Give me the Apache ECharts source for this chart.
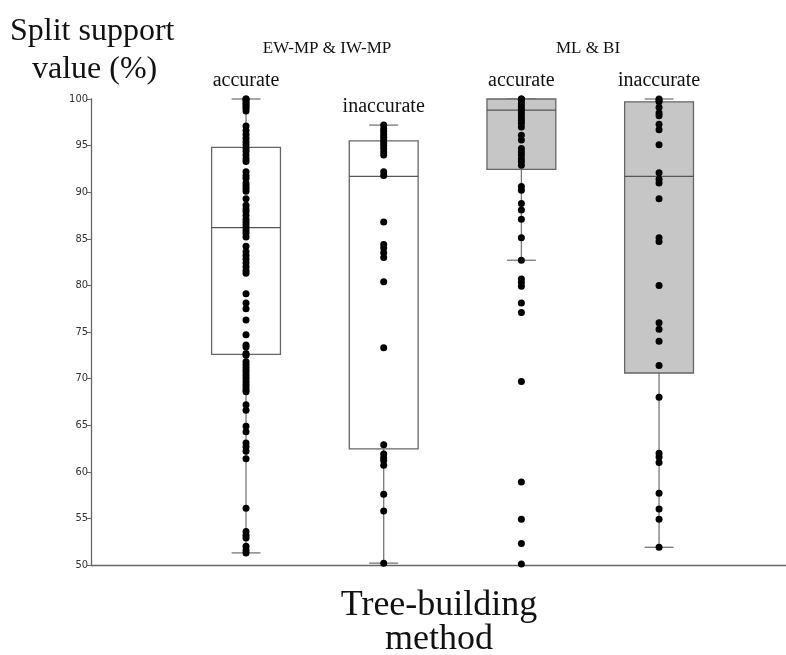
<!DOCTYPE html>
<html>
<head>
<meta charset="utf-8">
<script src="https://cdn.jsdelivr.net/npm/echarts@6/dist/echarts.min.js"></script>
<style>html,body{margin:0;padding:0;background:#fff}#c{width:786px;height:655px}</style>
</head>
<body>
<div id="c"></div>
<script>
// ---- data ----
const groupLabels = ['EW-MP & IW-MP', 'ML & BI'];
const boxLabels = ['accurate', 'inaccurate', 'accurate', 'inaccurate'];
const yTicks = [50, 55, 60, 65, 70, 75, 80, 85, 90, 95, 100];
// [min whisker, Q1, median, Q3, max whisker]
const boxEwAcc = [51.3, 72.6, 86.2, 94.8, 100];
const boxEwInacc = [50.2, 62.45, 91.7, 95.5, 97.2];
const boxMlAcc = [82.7, 92.45, 98.8, 100, 100];
const boxMlInacc = [51.9, 70.6, 91.7, 99.7, 100];
const ptsEwAcc = [100, 100, 99.8, 99.6, 99.4, 99.2, 99.0, 98.7, 97.1, 96.6, 96.2, 95.8, 95.4, 95.1, 94.7, 94.4, 94.0, 93.6, 93.3, 92.2, 91.8, 91.5, 91.0, 90.7, 90.4, 90.1, 89.3, 88.6, 88.2, 87.9, 87.5, 87.1, 86.8, 86.5, 86.2, 85.9, 85.6, 85.2, 84.2, 83.6, 83.2, 82.8, 82.4, 82.0, 81.6, 81.3, 79.1, 78.1, 77.5, 76.3, 74.7, 73.6, 73.4, 72.7, 72.5, 71.8, 71.5, 71.2, 70.9, 70.6, 70.3, 70.0, 69.7, 69.4, 69.1, 68.8, 68.6, 67.2, 66.6, 64.9, 64.3, 63.1, 62.7, 62.2, 61.4, 56.1, 53.6, 53.2, 52.9, 52.0, 51.6, 51.3];
const ptsEwInacc = [97.2, 96.8, 96.5, 96.2, 95.9, 95.6, 95.3, 95.0, 94.7, 94.3, 94.0, 92.2, 91.8, 86.8, 84.4, 84.0, 83.5, 83.0, 80.4, 73.3, 62.9, 61.9, 61.5, 61.2, 60.7, 57.6, 55.8, 50.2];
const ptsMlAcc = [100, 100, 99.8, 99.5, 99.2, 98.9, 98.6, 98.3, 98.0, 97.7, 97.4, 97.0, 96.1, 95.6, 94.7, 94.3, 94.0, 93.6, 93.3, 92.9, 90.6, 90.2, 88.8, 88.1, 87.1, 85.1, 82.7, 80.7, 80.3, 79.9, 78.1, 77.1, 69.7, 58.9, 54.9, 52.3, 50.1];
const ptsMlInacc = [100, 99.9, 99.7, 99.1, 98.5, 98.2, 97.3, 96.7, 95.1, 92.1, 91.4, 91.0, 89.3, 85.1, 84.7, 80.0, 76.0, 75.3, 74.0, 71.4, 68.0, 62.0, 61.6, 61.0, 57.7, 56.0, 54.9, 51.9];

const boxes = [boxEwAcc, boxEwInacc, boxMlAcc, boxMlInacc];
const points = [ptsEwAcc, ptsEwInacc, ptsMlAcc, ptsMlInacc];
const boxData = boxes.map((b, i) => [i + 1].concat(b));
const pointData = [];
points.forEach((arr, i) => arr.forEach(v => pointData.push([i + 1, v])));

const chart = echarts.init(document.getElementById('c'));

function renderBox(params, api) {
  const x = api.value(0);
  const lo = api.coord([x, api.value(1)]);
  const q1 = api.coord([x, api.value(2)]);
  const med = api.coord([x, api.value(3)]);
  const q3 = api.coord([x, api.value(4)]);
  const hi = api.coord([x, api.value(5)]);
  const band = api.size([1, 0])[0];
  const half = band * 0.25;
  const cap = band * 0.105;
  const fill = params.dataIndex >= 2 ? '#c6c6c6' : '#ffffff';
  const wStyle = { stroke: '#777', lineWidth: 1.3 };
  return {
    type: 'group',
    children: [
      { type: 'line', shape: { x1: hi[0], y1: hi[1], x2: q3[0], y2: q3[1] }, style: wStyle },
      { type: 'line', shape: { x1: q1[0], y1: q1[1], x2: lo[0], y2: lo[1] }, style: wStyle },
      { type: 'line', shape: { x1: hi[0] - cap, y1: hi[1], x2: hi[0] + cap, y2: hi[1] }, style: wStyle },
      { type: 'line', shape: { x1: lo[0] - cap, y1: lo[1], x2: lo[0] + cap, y2: lo[1] }, style: wStyle },
      { type: 'rect', shape: { x: q3[0] - half, y: q3[1], width: half * 2, height: q1[1] - q3[1] },
        style: { fill: fill, stroke: '#666', lineWidth: 1.3 } },
      { type: 'line', shape: { x1: med[0] - half, y1: med[1], x2: med[0] + half, y2: med[1] },
        style: { stroke: '#555', lineWidth: 1.3 } },
      { type: 'text', x: hi[0], y: hi[1] - 18,
        style: { text: boxLabels[params.dataIndex], fill: '#111', font: '20px "Liberation Serif"',
          align: 'center', verticalAlign: 'middle' } }
    ]
  };
}

chart.setOption({
  animation: false,
  grid: { left: 91, right: 0, top: 99, bottom: 90 },
  xAxis: {
    type: 'value', min: -0.126, max: 4.922,
    axisLine: { show: true, onZero: false, lineStyle: { color: '#666', width: 1.3 } },
    axisTick: { show: false }, axisLabel: { show: false }, splitLine: { show: false }
  },
  yAxis: {
    type: 'value', min: yTicks[0], max: yTicks[yTicks.length - 1], interval: 5,
    axisLine: { show: true, onZero: false, lineStyle: { color: '#666', width: 1.3 } },
    axisTick: { show: true, length: 4, lineStyle: { color: '#666' } },
    axisLabel: { fontSize: 11, color: '#333', margin: 3, fontFamily: 'DejaVu Sans Condensed, Liberation Sans' },
    splitLine: { show: false }
  },
  graphic: [
    { type: 'text', left: 10, top: 16,
      style: { text: 'Split support', font: '32px "Liberation Serif"', fill: '#111' } },
    { type: 'text', left: 32, top: 54,
      style: { text: 'value (%)', font: '32px "Liberation Serif"', fill: '#111' } },
    { type: 'text', x: 327, y: 49,
      style: { text: groupLabels[0], font: '17px "Liberation Serif"', fill: '#111', align: 'center', verticalAlign: 'middle' } },
    { type: 'text', x: 588, y: 49,
      style: { text: groupLabels[1], font: '17px "Liberation Serif"', fill: '#111', align: 'center', verticalAlign: 'middle' } },
    { type: 'text', x: 439, y: 606,
      style: { text: 'Tree-building', font: '36px "Liberation Serif"', fill: '#111', align: 'center', verticalAlign: 'middle' } },
    { type: 'text', x: 439, y: 640,
      style: { text: 'method', font: '36px "Liberation Serif"', fill: '#111', align: 'center', verticalAlign: 'middle' } }
  ],
  series: [
    { type: 'custom', renderItem: renderBox, data: boxData, clip: false, z: 2,
      encode: { x: 0, y: [1, 2, 3, 4, 5] } },
    { type: 'scatter', data: pointData, symbolSize: 7, itemStyle: { color: '#000', opacity: 1 }, z: 5, clip: false }
  ]
});
</script>
</body>
</html>
